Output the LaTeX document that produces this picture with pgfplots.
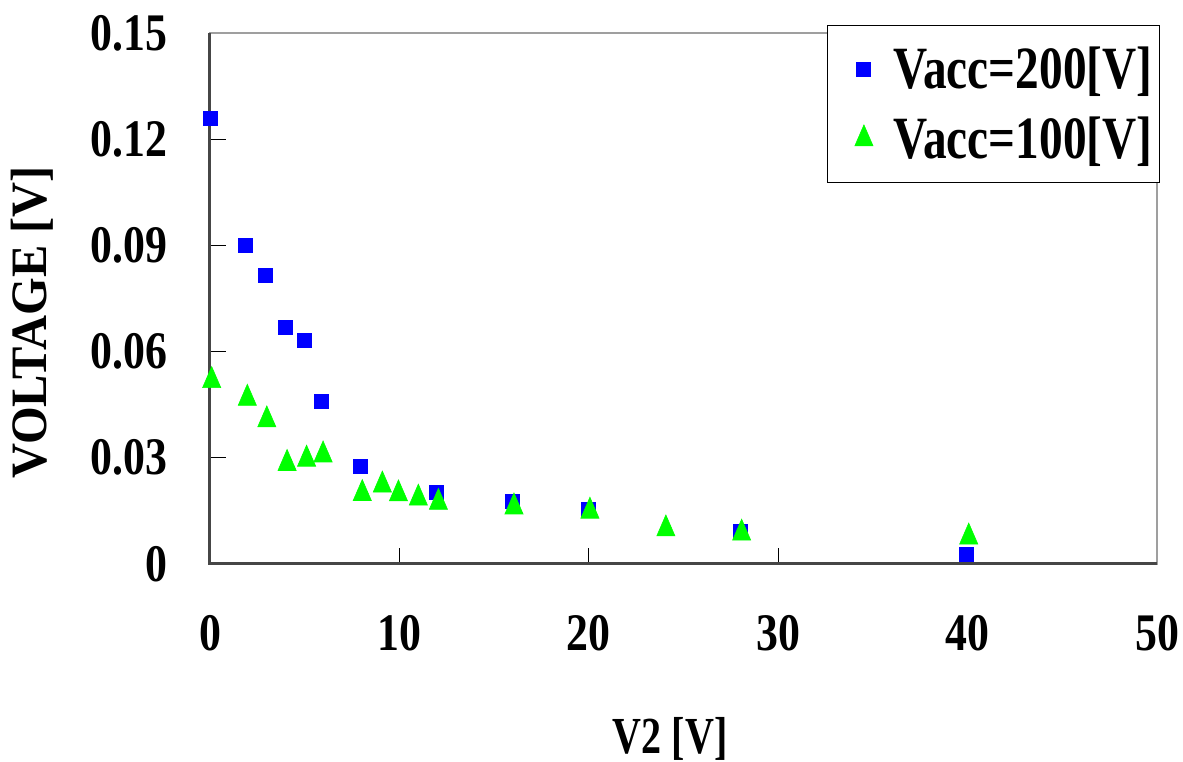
\documentclass[border=0pt]{standalone}
\usepackage{fontspec}
\usepackage{pgfplots}
\pgfplotsset{compat=1.18}
\newfontfamily\tickfont{Liberation Serif}[FakeStretch=0.83]
\newfontfamily\legfont{Liberation Serif}[FakeStretch=0.788]
\newfontfamily\xlabfont{Liberation Serif}[FakeStretch=0.77]
\newfontfamily\ylabfont{Liberation Serif}[FakeStretch=0.95]
\definecolor{mblue}{RGB}{0,0,255}
\definecolor{mgreen}{RGB}{0,255,0}
\begin{document}
\begin{tikzpicture}
\begin{axis}[
    name=ax,
    scale only axis,
    width=473.5pt,
    height=265.5pt,
    xmin=0, xmax=50,
    ymin=0, ymax=0.15,
    xtick={0,10,20,30,40,50},
    xticklabels={0,10,20,30,40,50},
    ytick={0,0.03,0.06,0.09,0.12,0.15},
    yticklabels={0,0.03,0.06,0.09,0.12,0.15},
    tick pos=left,
    tick align=inside,
    major tick length=8pt,
    tick style={black, line width=0.5pt},
    axis line style={draw=gray!75, line width=1pt},
    xticklabel style={font=\fontsize{26.4}{30}\tickfont\bfseries, inner sep=0pt, anchor=base, yshift=-43.5pt},
    yticklabel style={font=\fontsize{26.4}{30}\tickfont\bfseries, inner sep=0pt, anchor=east, xshift=-21pt},
    xlabel={V2 [V]},
    ylabel={VOLTAGE [V]},
    xlabel style={font=\fontsize{26}{30}\xlabfont\bfseries, at={(axis description cs:0.486,-0.357)}, anchor=base, inner sep=0pt},
    ylabel style={font=\fontsize{25.5}{30}\ylabfont\bfseries, at={(axis description cs:-0.188,0.455)}, anchor=center, rotate=0, inner sep=0pt},
    clip=false,
    legend style={at={(1.003,1.015)}, anchor=north east, draw=black, line width=0.5pt,
        font=\fontsize{30}{34}\legfont\bfseries, inner xsep=2.5pt, inner ysep=9.7pt,
        row sep=10.5pt, nodes={inner sep=1pt}},
    legend cell align=left,
    legend image code/.code={\path (0pt,0pt) (29pt,0pt); \draw[#1] plot coordinates {(15.5pt,0pt)};},
]
\draw[line width=1.5pt, gray!55!black] (rel axis cs:0,1) -- (rel axis cs:0,0) -- (rel axis cs:1,0);
\addplot[only marks, mark=square*, mark size=3.5pt, mark options={draw=mblue, fill=mblue}] coordinates {
  (0,0.126) (1.85,0.0901) (2.9,0.0814) (3.96,0.0667) (5.0,0.0631) (5.86,0.0458)
  (7.96,0.0275) (11.97,0.0201) (15.96,0.0178) (19.97,0.0153) (27.98,0.0091) (39.95,0.0028)};
\addplot[only marks, mark=triangle*, mark size=7pt, mark options={draw=mgreen, fill=mgreen, xscale=0.75, line width=0.3pt}] coordinates {
  (0.09,0.0518) (1.97,0.0468) (3.0,0.0407) (4.07,0.0284) (5.1,0.0296) (5.97,0.0308)
  (8.04,0.0199) (9.1,0.0223) (9.95,0.0198) (11.0,0.0186) (12.06,0.0174) (16.05,0.0161)
  (20.06,0.0149) (24.07,0.0099) (28.07,0.0087) (40.06,0.0076)};
\legend{Vacc=200[V], Vacc=100[V]}
\end{axis}
\pgfresetboundingbox
\useasboundingbox ([shift={(-105pt,-99pt)}]ax.south west) rectangle ([shift={(13pt,16.5pt)}]ax.north east);
\end{tikzpicture}
\end{document}
